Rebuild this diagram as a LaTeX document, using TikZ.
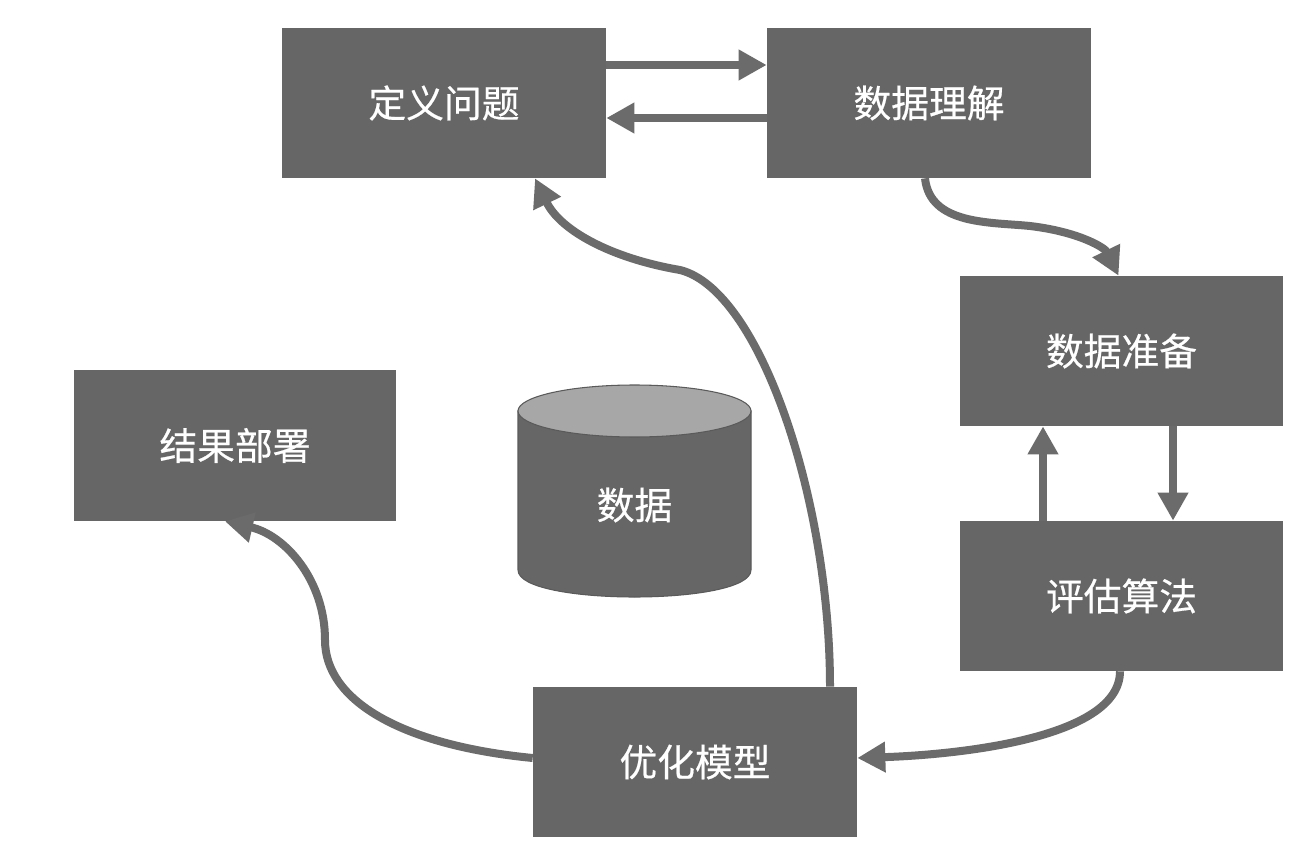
\documentclass[tikz,border=0pt]{standalone}
\usepackage{fontspec}
\newfontfamily\cjk[FakeBold=0.5]{Noto Sans CJK SC}
\usetikzlibrary{arrows.meta,calc}
\definecolor{boxgray}{HTML}{666666}
\definecolor{arrgray}{HTML}{6B6B6B}
\definecolor{topgray}{HTML}{A7A7A7}
\definecolor{edgegray}{HTML}{5A5A5A}
\tikzset{
  stepbox/.style={rectangle, fill=boxgray, draw=none, minimum width=6.48cm, minimum height=3cm,
    text=white, font=\cjk\fontsize{21.5}{25}\selectfont, inner sep=0pt},
  flow/.style={draw=arrgray, line width=0.16cm, -{Triangle[length=0.56cm,width=0.58cm]}},
}
\begin{document}
\begin{tikzpicture}[x=0.02cm,y=-0.02cm]
\fill[white] (0,0) rectangle (1308,868);
\useasboundingbox (0,0) rectangle (1308,868);

\node[stepbox] (A) at (444,103) {定义问题};
\node[stepbox] (B) at (929,103) {数据理解};
\node[stepbox] (C) at (1121.5,351) {数据准备};
\node[stepbox] (D) at (1121.5,596) {评估算法};
\node[stepbox] (E) at (695,762) {优化模型};
\node[stepbox, minimum width=6.44cm, minimum height=3.02cm] (F) at (235,445.5) {结果部署};

% cylinder
\fill[boxgray, draw=edgegray, line width=0.6pt] (518,411) -- (518,570) .. controls (518,606) and (751,606) .. (751,570) -- (751,411) -- cycle;
\draw[fill=topgray, draw=edgegray, line width=0.6pt] (634.5,411) ellipse [x radius=116.5, y radius=26];
\node[text=white, font=\cjk\fontsize{21.5}{25}\selectfont] (G) at (634.5,505) {数据};

% connectors
\draw[flow] ($(A.east)+(0,-38)$) -- ($(B.west)+(0,-38)$);
\draw[flow] ($(B.west)+(0,15)$) -- ($(A.east)+(0,15)$);
\draw[flow] ($(B.south)+(-4,0)$) .. controls (930,225) and (990,222) .. (1030,226) .. controls (1080,232) and (1105,248) .. ($(C.north)+(-3,0)$);
\draw[flow] ($(C.south)+(51.5,0)$) -- ($(D.north)+(51.5,0)$);
\draw[flow] ($(D.north)+(-78.5,0)$) -- ($(C.south)+(-78.5,0)$);
\draw[flow] ($(D.south)+(-1.5,0)$) .. controls (1120,740) and (950,755) .. ($(E.east)+(0,-4)$);
\draw[flow] ($(E.west)+(0,-4)$) .. controls (400,745) and (325,700) .. (325,640) .. controls (325,580) and (285,535) .. ($(F.south)+(-10,0)$);
\draw[flow] ($(E.north)+(135,0)$) .. controls (830,500) and (760,290) .. (680,270) .. controls (610,258) and (560,230) .. ($(A.south)+(91,0)$);
\end{tikzpicture}
\end{document}
